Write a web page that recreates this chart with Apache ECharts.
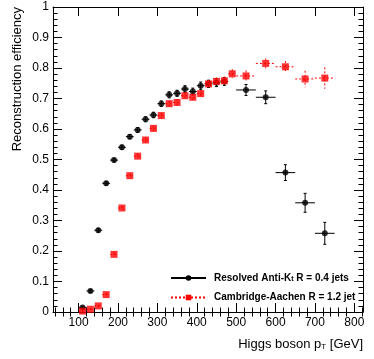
<!DOCTYPE html>
<html>
<head>
<meta charset="utf-8">
<script src="https://cdn.jsdelivr.net/npm/echarts@6/dist/echarts.min.js"></script>
<style>
  html, body { margin: 0; padding: 0; background: #fff; }
  #chart { width: 374px; height: 359px; }
</style>
</head>
<body>
<div id="chart"></div>
<script>
// bin centres (GeV) and half widths
const ptBins = [110, 130, 150, 170, 190, 210, 230, 250, 270, 290, 310, 330, 350, 370, 390, 410, 430, 450, 470, 490, 525, 575, 625, 675, 725]
const ptHalf = [10, 10, 10, 10, 10, 10, 10, 10, 10, 10, 10, 10, 10, 10, 10, 10, 10, 10, 10, 10, 25, 25, 25, 25, 25]

// resolved anti-kt R=0.4 (no visible point in the 490 bin)
const resolvedEff = [0.015, 0.069, 0.268, 0.422, 0.498, 0.540, 0.575, 0.597, 0.632, 0.646, 0.683, 0.712, 0.717, 0.731, 0.723, 0.742, 0.748, 0.752, 0.756, null, 0.728, 0.704, 0.457, 0.358, 0.258]
const resolvedErr = [0.004, 0.005, 0.006, 0.006, 0.006, 0.007, 0.007, 0.008, 0.008, 0.009, 0.009, 0.010, 0.010, 0.011, 0.011, 0.012, 0.012, 0.013, 0.013, null, 0.018, 0.021, 0.026, 0.031, 0.036]

// cambridge-aachen R=1.2
const caEff = [0.003, 0.009, 0.020, 0.057, 0.189, 0.341, 0.447, 0.511, 0.564, 0.602, 0.644, 0.683, 0.687, 0.709, 0.704, 0.716, 0.748, 0.756, 0.758, 0.781, 0.774, 0.815, 0.804, 0.764, 0.767]
const caErr = [0.003, 0.003, 0.004, 0.005, 0.006, 0.007, 0.007, 0.008, 0.008, 0.009, 0.009, 0.010, 0.010, 0.011, 0.011, 0.012, 0.013, 0.013, 0.014, 0.015, 0.018, 0.016, 0.019, 0.027, 0.035]

const xMajor = [100, 200, 300, 400, 500, 600, 700, 800]
const xMinor = []
for (let v = 40; v <= 820; v += 20) if (v % 100 !== 0) xMinor.push(v)

const legendNames = ['Resolved Anti-K_t R = 0.4 jets', 'Cambridge-Aachen R = 1.2 jet']

const toPoints = (eff, err) => ptBins
  .map((x, i) => [x, eff[i], ptHalf[i], err[i]])
  .filter(p => p[1] !== null)

const errorBars = (color, dashed, caps) => (params, api) => {
  const x = api.value(0), y = api.value(1), dx = api.value(2), dy = api.value(3)
  const l = api.coord([x - dx, y]), r = api.coord([x + dx, y])
  const t = api.coord([x, y + dy]), b = api.coord([x, y - dy])
  const style = { stroke: color, lineWidth: 1, lineDash: dashed ? [2, 2] : null }
  const children = [
    { type: 'line', shape: { x1: l[0], y1: l[1], x2: r[0], y2: r[1] }, style },
    { type: 'line', shape: { x1: t[0], y1: t[1], x2: b[0], y2: b[1] }, style }
  ]
  if (caps) {
    children.push({ type: 'line', shape: { x1: t[0] - 1.5, y1: t[1], x2: t[0] + 1.5, y2: t[1] }, style })
    children.push({ type: 'line', shape: { x1: b[0] - 1.5, y1: b[1], x2: b[0] + 1.5, y2: b[1] }, style })
  }
  return { type: 'group', children }
}

const blackLine = { color: '#000', width: 1 }
const textBase = { color: '#000', fontFamily: 'Liberation Sans, Arial, sans-serif' }

const xAxisBase = {
  type: 'value', min: 35, max: 822,
  splitLine: { show: false },
  axisLine: { show: true, onZero: false, lineStyle: blackLine },
  axisLabel: { show: false }
}

const chart = echarts.init(document.getElementById('chart'))
chart.setOption({
  animation: false,
  grid: { left: 53, right: 11, top: 7, bottom: 47, outerBoundsMode: 'none' },
  legend: {
    orient: 'vertical',
    left: 165, top: 268,
    itemWidth: 35, itemHeight: 7, itemGap: 9.5,
    data: legendNames,
    selectedMode: false,
    formatter: name => name.replace('K_t', 'K{sub|t}'),
    textStyle: {
      ...textBase, fontSize: 10, fontWeight: 'bold', padding: [0, 0, 0, 3],
      rich: { sub: { ...textBase, fontSize: 7, fontWeight: 'bold', verticalAlign: 'bottom', lineHeight: 7 } }
    }
  },
  xAxis: [
    {
      ...xAxisBase, position: 'bottom',
      axisTick: { inside: true, length: 9, customValues: xMajor, lineStyle: blackLine },
      axisLabel: { ...textBase, fontSize: 12, margin: 5, customValues: xMajor },
      name: 'Higgs boson p{sub|T} [GeV]',
      nameLocation: 'end', nameGap: 0,
      nameTextStyle: {
        ...textBase, fontSize: 13, align: 'right', verticalAlign: 'top', padding: [26, 0, 0, 0],
        rich: { sub: { ...textBase, fontSize: 8, verticalAlign: 'bottom', lineHeight: 8 } }
      }
    },
    { ...xAxisBase, position: 'bottom', axisLine: { show: false }, axisTick: { inside: true, length: 4.5, customValues: xMinor, lineStyle: blackLine } },
    { ...xAxisBase, position: 'top', axisTick: { inside: true, length: 9, customValues: xMajor, lineStyle: blackLine } },
    { ...xAxisBase, position: 'top', axisLine: { show: false }, axisTick: { inside: true, length: 4.5, customValues: xMinor, lineStyle: blackLine } }
  ],
  yAxis: [
    {
      type: 'value', min: 0, max: 1, interval: 0.1, position: 'left',
      splitLine: { show: false },
      axisLine: { show: true, onZero: false, lineStyle: blackLine },
      axisTick: { inside: true, length: 9, lineStyle: blackLine },
      minorTick: { show: true, splitNumber: 5, length: 4.5, lineStyle: blackLine },
      axisLabel: {
        ...textBase, fontSize: 12, margin: 4,
        formatter: v => (v === 0 || v === 1) ? String(v) : v.toFixed(1)
      },
      name: 'Reconstruction efficiency',
      nameLocation: 'end', nameGap: 0, nameRotate: 90,
      nameTextStyle: { ...textBase, fontSize: 13, align: 'right', verticalAlign: 'bottom', padding: [0, 0, 29, 0] }
    },
    {
      type: 'value', min: 0, max: 1, interval: 0.1, position: 'right',
      splitLine: { show: false },
      axisLine: { show: true, onZero: false, lineStyle: blackLine },
      axisTick: { inside: true, length: 9, lineStyle: blackLine },
      minorTick: { show: true, splitNumber: 5, length: 4.5, lineStyle: blackLine },
      axisLabel: { show: false }
    }
  ],
  series: [
    // legend entries only
    { name: legendNames[0], type: 'line', data: [], symbol: 'circle', symbolSize: 6, itemStyle: { color: '#000' }, lineStyle: { color: '#000', width: 1 } },
    { name: legendNames[1], type: 'line', data: [], symbol: 'rect', symbolSize: 7, itemStyle: { color: '#ff0000' }, lineStyle: { color: '#ff0000', width: 1, type: [2, 2] } },

    { type: 'custom', renderItem: errorBars('#000', false, true), data: toPoints(resolvedEff, resolvedErr), encode: { x: 0, y: 1 }, z: 2 },
    { type: 'scatter', data: toPoints(resolvedEff, resolvedErr), symbol: 'circle', symbolSize: 6, itemStyle: { color: '#000' }, z: 3 },
    { type: 'custom', renderItem: errorBars('#ff0000', true, false), data: toPoints(caEff, caErr), encode: { x: 0, y: 1 }, z: 4 },
    { type: 'scatter', data: toPoints(caEff, caErr), symbol: 'rect', symbolSize: 7, itemStyle: { color: '#ff0000' }, z: 5 }
  ]
})
</script>
</body>
</html>
